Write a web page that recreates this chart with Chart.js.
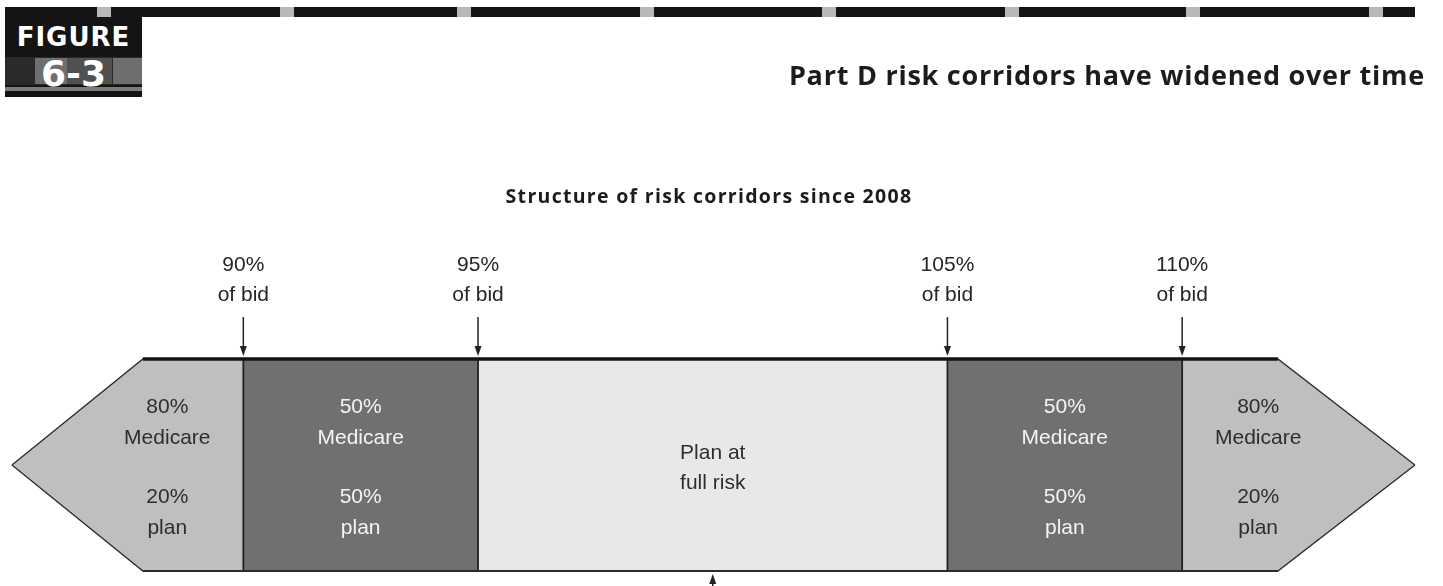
<!DOCTYPE html>
<html>
<head>
<meta charset="utf-8">
<script src="https://cdn.jsdelivr.net/npm/chart.js@4.4.1/dist/chart.umd.min.js"></script>
<style>
  html, body { margin: 0; padding: 0; background: #fff; }
  #wrap { position: relative; width: 1443px; height: 586px; overflow: hidden; }
  #chartBox { position: absolute; left: 0; top: 0; width: 1443px; height: 586px; }
  .hdr { position: absolute; left: 5px; top: 7px; width: 1410px; height: 10px; background: #151515; }
  .tab { position: absolute; top: 7px; width: 14px; height: 10px; background: #b8b8b8; }
  .badge { position: absolute; left: 5px; top: 8px; width: 137px; height: 89px; background: #141414; overflow: hidden; }
  .badge .strip { position: absolute; left: 0; top: 49px; width: 137px; height: 28px; background: #2a2a2a; }
  .badge .g1 { position: absolute; left: 30px; top: 50px; width: 32px; height: 26px; background: #6e6e6e; }
  .badge .g2 { position: absolute; left: 62px; top: 50px; width: 45px; height: 26px; background: #505050; }
  .badge .g3 { position: absolute; left: 108px; top: 50px; width: 29px; height: 26px; background: #6e6e6e; }
  .badge .band { position: absolute; left: 0; top: 79px; width: 137px; height: 4px; background: #d0d0d0; opacity: .55; }
  .badge .fig { position: absolute; left: 0; top: 14px; width: 137px; text-align: center; color: #fff;
                font: 700 26px "DejaVu Sans", sans-serif; letter-spacing: 1px; line-height: 30px; }
  .badge .num { position: absolute; left: 0; top: 46px; width: 137px; text-align: center; color: #fff;
                font: 700 36px "DejaVu Sans", sans-serif; line-height: 40px; }
  .title { position: absolute; right: 18px; top: 56px; font: 700 27px "Open Sans", sans-serif; color: #1c1c1c;
           white-space: nowrap; letter-spacing: 0.75px; }
  .subtitle { position: absolute; left: 0; width: 1418px; top: 182px; text-align: center;
              font: 700 19.5px "Open Sans", sans-serif; color: #1c1c1c; white-space: nowrap; letter-spacing: 1.3px; }
</style>
</head>
<body>
<div id="wrap">
  <div id="chartBox"><canvas id="c"></canvas></div>
  <div class="hdr"></div>
  <div class="badge">
    <div class="strip"></div><div class="g1"></div><div class="g2"></div><div class="g3"></div>
    <div class="band"></div>
    <div class="fig">FIGURE</div>
    <div class="num">6-3</div>
  </div>
  <div class="tab" style="left:97px"></div>
  <div class="tab" style="left:280px"></div>
  <div class="tab" style="left:457px"></div>
  <div class="tab" style="left:640px"></div>
  <div class="tab" style="left:822px"></div>
  <div class="tab" style="left:1005px"></div>
  <div class="tab" style="left:1186px"></div>
  <div class="tab" style="left:1369px"></div>
  <div class="title">Part D risk corridors have widened over time</div>
  <div class="subtitle">Structure of risk corridors since 2008</div>
</div>
<script>
// ---- data (percent of bid) ----
const bidThresholds   = [90, 95, 105, 110];
const thresholdLabels = ['90%', '95%', '105%', '110%'];
const medicareShare   = [80, 50, 0, 50, 80];   // share of costs paid by Medicare in each corridor
const planShare       = [20, 50, 100, 50, 20]; // share of costs borne by the plan
const fullRiskLabel   = ['Plan at', 'full risk'];

// ---- layout / style constants ----
const OUTER_LEFT = 87.86, OUTER_RIGHT = 112.04;   // where the arrow tips begin
const TIP_LEFT = 85.07, TIP_RIGHT = 114.96;       // arrow tip points
const OUTER_LABEL_OFFSET = 1.62;
const bandFill = ['#bfbfbf', '#707070', '#e8e8e6', '#707070', '#bfbfbf'];
const bandText = ['#2e2e2e', '#f4f4f4', '#2e2e2e', '#f4f4f4', '#2e2e2e'];

const datasets = [];

// inner corridors (rectangles between thresholds)
for (let i = 0; i < bidThresholds.length - 1; i++) {
  datasets.push({
    data: [{x: bidThresholds[i], y: 1}, {x: bidThresholds[i + 1], y: 1}],
    showLine: true, fill: 'origin', backgroundColor: bandFill[i + 1],
    borderWidth: 0, borderColor: 'rgba(0,0,0,0)', pointRadius: 0, order: 5
  });
}
// outer corridors as arrow-shaped polygons (upper outline, then lower outline filled to it)
[[TIP_LEFT, OUTER_LEFT, bidThresholds[0], bandFill[0]],
 [TIP_RIGHT, OUTER_RIGHT, bidThresholds[3], bandFill[4]]].forEach(([tip, base, inner, col]) => {
  datasets.push({
    data: [{x: tip, y: 0.5}, {x: base, y: 1}, {x: inner, y: 1}], showLine: true, fill: false,
    borderColor: '#2a2a2a', borderWidth: 1.3, pointRadius: 0, order: 4
  });
  datasets.push({
    data: [{x: tip, y: 0.5}, {x: base, y: 0}, {x: inner, y: 0}], showLine: true, fill: '-1', backgroundColor: col,
    borderColor: '#2a2a2a', borderWidth: 1.3, pointRadius: 0, order: 4
  });
});
// bottom border
datasets.push({
  data: [{x: OUTER_LEFT, y: 0}, {x: OUTER_RIGHT, y: 0}], showLine: true, fill: false,
  borderColor: '#2b2b2b', borderWidth: 2, pointRadius: 0, order: 2
});
// dividers at thresholds
bidThresholds.forEach(t => {
  datasets.push({
    data: [{x: t, y: 0}, {x: t, y: 1}], showLine: true, fill: false,
    borderColor: '#222', borderWidth: 1.8, pointRadius: 0, order: 2
  });
});
// heavy top border
datasets.push({
  data: [{x: OUTER_LEFT, y: 1}, {x: OUTER_RIGHT, y: 1}], showLine: true, fill: false,
  borderColor: '#141414', borderWidth: 3.5, pointRadius: 0, order: 1
});

const labelPlugin = {
  id: 'corridorLabels',
  afterDatasetsDraw(chart) {
    const {ctx} = chart;
    const xs = chart.scales.x, ys = chart.scales.y;
    const top = ys.getPixelForValue(1), bot = ys.getPixelForValue(0), mid = ys.getPixelForValue(0.5);
    ctx.save();
    ctx.textAlign = 'center';
    ctx.textBaseline = 'middle';
    ctx.font = '21px "Liberation Sans", Arial, sans-serif';

    const arrow = (x, yTail, yTip) => {
      const dir = yTip > yTail ? 1 : -1;
      ctx.strokeStyle = '#222'; ctx.fillStyle = '#222'; ctx.lineWidth = 1.5;
      ctx.beginPath(); ctx.moveTo(x, yTail); ctx.lineTo(x, yTip - dir * 8); ctx.stroke();
      ctx.beginPath(); ctx.moveTo(x, yTip); ctx.lineTo(x - 3.5, yTip - dir * 10); ctx.lineTo(x + 3.5, yTip - dir * 10);
      ctx.closePath(); ctx.fill();
    };

    // threshold labels with arrows
    bidThresholds.forEach((t, i) => {
      const x = xs.getPixelForValue(t);
      ctx.fillStyle = '#262626';
      ctx.fillText(thresholdLabels[i], x, top - 94);
      ctx.fillText('of bid', x, top - 64);
      arrow(x, top - 42, top - 3);
    });

    // corridor texts
    const centers = [bidThresholds[0] - OUTER_LABEL_OFFSET];
    for (let i = 0; i < bidThresholds.length - 1; i++) centers.push((bidThresholds[i] + bidThresholds[i + 1]) / 2);
    centers.push(bidThresholds[3] + OUTER_LABEL_OFFSET);
    centers.forEach((c, i) => {
      const x = xs.getPixelForValue(c);
      ctx.fillStyle = bandText[i];
      if (medicareShare[i] > 0) {
        ctx.fillText(medicareShare[i] + '%', x, mid - 58);
        ctx.fillText('Medicare', x, mid - 27);
        ctx.fillText(planShare[i] + '%', x, mid + 32);
        ctx.fillText('plan', x, mid + 63);
      } else {
        ctx.fillText(fullRiskLabel[0], x, mid - 12);
        ctx.fillText(fullRiskLabel[1], x, mid + 18);
      }
    });

    // expected-cost arrow below the band
    arrow(xs.getPixelForValue(100), chart.height + 2, bot + 3);
    ctx.restore();
  }
};

new Chart(document.getElementById('c'), {
  type: 'scatter',
  data: { datasets },
  options: {
    responsive: true, maintainAspectRatio: false, animation: false,
    layout: { padding: 0 },
    elements: { line: { tension: 0 } },
    scales: {
      x: { type: 'linear', min: 84.816, max: 115.557, display: false },
      y: { type: 'linear', min: -0.0708, max: 2.6934, display: false }
    },
    plugins: { legend: { display: false }, tooltip: { enabled: false }, title: { display: false } }
  },
  plugins: [labelPlugin]
});
</script>
</body>
</html>
